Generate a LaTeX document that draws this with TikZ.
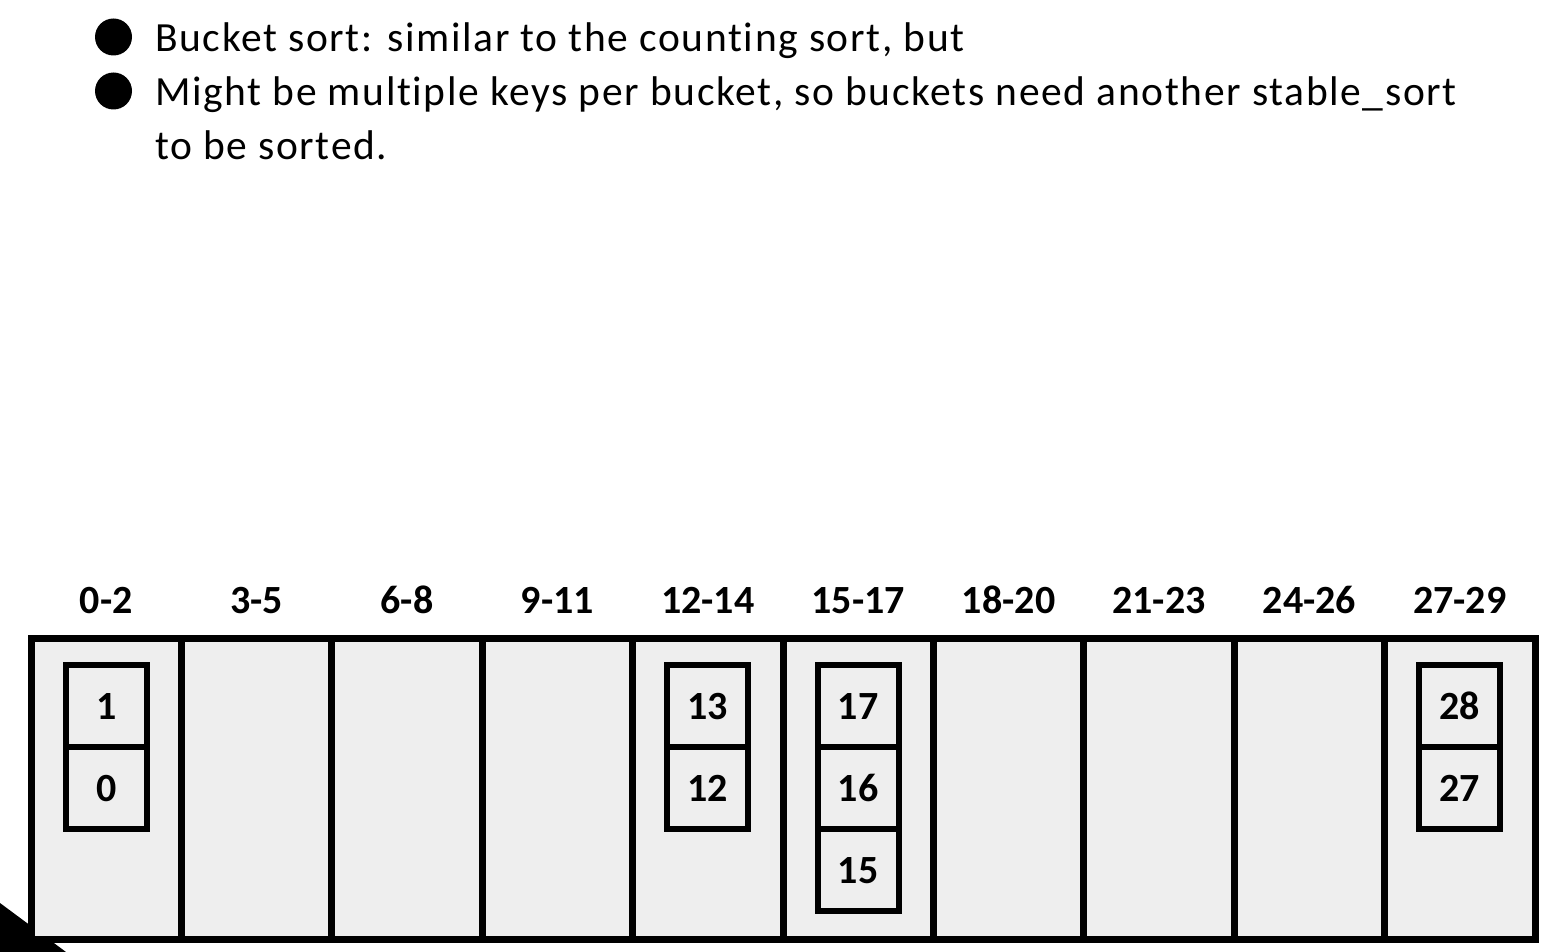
\documentclass[tikz,border=0pt]{standalone}
\usepackage{fontspec}
\setmainfont{Carlito}
\newfontfamily\bodyfont[LetterSpace=4.0,Ligatures=NoCommon]{Carlito}
\usetikzlibrary{positioning}
\definecolor{cellgray}{HTML}{EEEEEE}
\begin{document}
\begin{tikzpicture}[x=1pt,y=-1pt,
  bucket/.style={draw,fill=cellgray,line width=7pt,minimum width=150.4pt,minimum height=301pt,inner sep=0pt,outer sep=0pt},
  cell/.style={draw,fill=cellgray,line width=6pt,minimum width=81pt,minimum height=82pt,inner sep=0pt,outer sep=0pt,font=\fontsize{40}{48}\selectfont\bfseries},
  lab/.style={font=\fontsize{40}{48}\selectfont\bfseries,inner sep=0pt,anchor=base},
  txt/.style={font=\bodyfont\fontsize{41.5}{48}\selectfont,anchor=base west,inner sep=0pt},
  dot/.style={circle,fill=black,minimum size=37pt,inner sep=0pt}]
\useasboundingbox (0,0) rectangle (1557,952);
% corner triangle
\fill[black] (0,903) -- (66,952) -- (0,952) -- cycle;
% buckets and labels
\foreach \i/\t in {0/0-2,1/3-5,2/6-8,3/9-11,4/12-14,5/15-17,6/18-20,7/21-23,8/24-26,9/27-29}{
  \node[bucket] (b\i) at ({106.2+150.4*\i},788.5) {};
  \node[lab] (l\i) at ({106.2+150.4*\i},613) {\t};
}
% cells
\node[cell] (c1) at (106.2,706.25) {1};
\node[cell,below=0pt of c1] (c0) {0};
\node[cell] (c13) at (707.8,706.25) {13};
\node[cell,below=0pt of c13] (c12) {12};
\node[cell] (c17) at (858.2,706.25) {17};
\node[cell,below=0pt of c17] (c16) {16};
\node[cell,below=0pt of c16] (c15) {15};
\node[cell] (c28) at (1459.8,706.25) {28};
\node[cell,below=0pt of c28] (c27) {27};
% bullets
\node[dot] (d1) at (113.5,37) {};
\node[dot] (d2) at (113.5,91) {};
\node[txt] (t1) at (155,52) {Bucket sort: similar to the counting sort, but};
\node[txt] (t2) at (155,106) {Might be multiple keys per bucket, so buckets need another stable\_sort};
\node[txt] (t3) at (155,160) {to be sorted.};
\end{tikzpicture}
\end{document}
